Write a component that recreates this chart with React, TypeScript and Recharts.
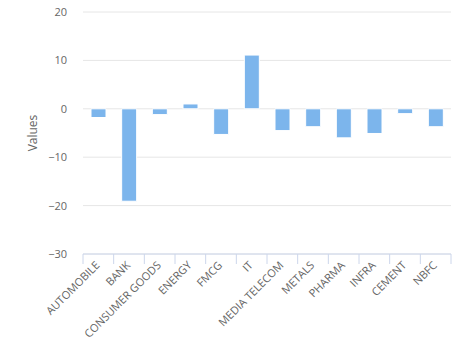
// Sector performance column chart

import { BarChart, Bar, XAxis, YAxis, CartesianGrid } from 'recharts';

const sectors = [
  'AUTOMOBILE', 'BANK', 'CONSUMER GOODS', 'ENERGY', 'FMCG', 'IT',
  'MEDIA TELECOM', 'METALS', 'PHARMA', 'INFRA', 'CEMENT', 'NBFC',
];
const values = [-1.8, -19.1, -1.2, 1.0, -5.3, 11.1, -4.5, -3.7, -6.0, -5.1, -1.0, -3.7];
const yTicks = [-30, -20, -10, 0, 10, 20];

const W = 474;
const H = 348;
const LEFT = 83;
const RIGHT = 23;
const BOTTOM = 94;
const band = (W - LEFT - RIGHT) / sectors.length;

const data = sectors.map((s, i) => ({ sector: s, value: values[i] }));

const font = '"Open Sans", "Liberation Sans", Arial, sans-serif';

function CategoryTick(props: any) {
  const { x, y, payload, index } = props;
  const axisY = H - BOTTOM;
  const last = index === sectors.length - 1;
  return (
    <g>
      <line x1={x - band / 2} x2={x - band / 2} y1={axisY} y2={axisY + 10} stroke="#ccd6eb" />
      {last && <line x1={x + band / 2} x2={x + band / 2} y1={axisY} y2={axisY + 10} stroke="#ccd6eb" />}
      <text
        x={x + 2}
        y={y}
        textAnchor="end"
        transform={`rotate(-45 ${x + 2} ${y})`}
        fontSize={11}
        fill="#666666"
        fontFamily={font}
      >
        {payload.value}
      </text>
    </g>
  );
}

export default function App() {
  return (
    <div style={{ position: 'absolute', left: 0, top: 0, width: W, height: H, background: '#fff' }}>
      <BarChart
        width={W}
        height={H}
        data={data}
        margin={{ top: 12, right: RIGHT, left: 0, bottom: 0 }}
        barCategoryGap={0}
      >
        <CartesianGrid vertical={false} stroke="#e6e6e6" />
        <XAxis
          dataKey="sector"
          height={BOTTOM}
          interval={0}
          tickLine={false}
          tickSize={0}
          tickMargin={12}
          axisLine={{ stroke: '#ccd6eb' }}
          tick={<CategoryTick />}
        />
        <YAxis
          width={LEFT}
          domain={[-30, 20]}
          ticks={yTicks}
          axisLine={false}
          tickLine={false}
          tickSize={8}
          tickMargin={8}
          tickFormatter={(v: number) => String(v).replace('-', '\u2212')}
          tick={{ fontSize: 11, fill: '#666666', fontFamily: font }}
          label={{
            value: 'Values',
            angle: -90,
            position: 'insideLeft',
            offset: 33,
            style: { fontSize: 12, fill: '#666666', fontFamily: font, textAnchor: 'middle' },
          }}
        />
        <Bar dataKey="value" fill="#7cb5ec" stroke="#ffffff" strokeWidth={1} barSize={15} isAnimationActive={false} />
      </BarChart>
    </div>
  );
}
